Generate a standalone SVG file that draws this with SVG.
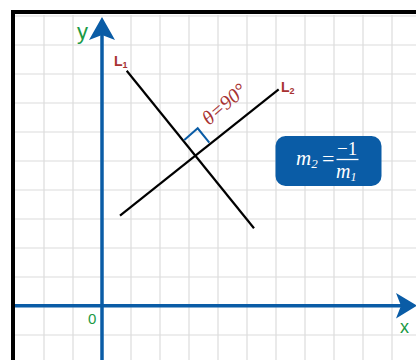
<svg xmlns="http://www.w3.org/2000/svg" width="416" height="360" viewBox="0 0 416 360">
<defs>
<style>
.grid{stroke:#dcdcdc;stroke-width:1.2;fill:none}
.axis{stroke:#0a5ca6;stroke-width:3.5;fill:none}
.line{stroke:#000;stroke-width:2.2;fill:none}
.lbl{font-family:"Liberation Sans","Open Sans",sans-serif;fill:#1a9a45}
.llbl{font-family:"Liberation Sans",sans-serif;font-weight:bold;fill:#a83232}
.math{font-family:"Liberation Serif","Times New Roman",serif;font-style:italic}
</style>
</defs>
<rect width="416" height="360" fill="#fff"/>
<g id="grid" class="grid">
<path d="M44 15V360M73 15V360M131 15V360M160 15V360M189 15V360M218 15V360M247 15V360M276 15V360M305 15V360M334 15V360M363 15V360M392 15V360"/>
<path d="M15 16H416M15 45H416M15 74H416M15 103H416M15 132H416M15 161H416M15 190H416M15 219H416M15 248H416M15 277H416M15 335H416"/>
</g>
<path id="frame" d="M13 360V12H416" fill="none" stroke="#000" stroke-width="4"/>
<g id="axes">
<path class="axis" d="M102 360V30"/>
<path d="M102 17L115 40L102 35L89 40Z" fill="#0a5ca6"/>
<path class="axis" d="M15 305.7H405"/>
<path d="M417 305.7L396 318.5L401 305.7L396 293Z" fill="#0a5ca6"/>
<text class="lbl" x="77" y="39" font-size="22">y</text>
<text class="lbl" x="400" y="333" font-size="18">x</text>
<text class="lbl" x="88" y="324" font-size="15">0</text>
</g>
<g id="connectors">
<path id="L1" class="line" d="M126.7 70.7L254 228.3"/>
<path id="L2" class="line" d="M120 215.7L278.7 89.3"/>
<path id="right-angle" d="M184.3 140L197.7 128.3L209.3 142.7" fill="none" stroke="#0a5ca6" stroke-width="2"/>
</g>
<g id="labels">
<text class="llbl" x="114" y="66" font-size="14">L<tspan font-size="9" dy="2">1</tspan></text>
<text class="llbl" x="281" y="92" font-size="14">L<tspan font-size="9" dy="2">2</tspan></text>
<text class="math" x="0" y="0" font-size="20" fill="#a83232" transform="translate(209 126) rotate(-41)">θ=90°</text>
</g>
<g id="formula">
<rect x="275.5" y="136" width="106" height="50" rx="10" fill="#0a5ca6"/>
<text class="math" fill="#fff" font-size="21" x="296" y="165">m<tspan font-size="13" dy="3">2</tspan></text>
<text fill="#fff" font-size="22" font-family="Liberation Serif,serif" x="322" y="166">=</text>
<text fill="#fff" font-size="19" font-family="Liberation Serif,serif" x="337" y="155">−1</text>
<path d="M336.5 159.5H358.5" stroke="#fff" stroke-width="1.3"/>
<text class="math" fill="#fff" font-size="20" x="336" y="178">m<tspan font-size="12" dy="3">1</tspan></text>
</g>
</svg>
